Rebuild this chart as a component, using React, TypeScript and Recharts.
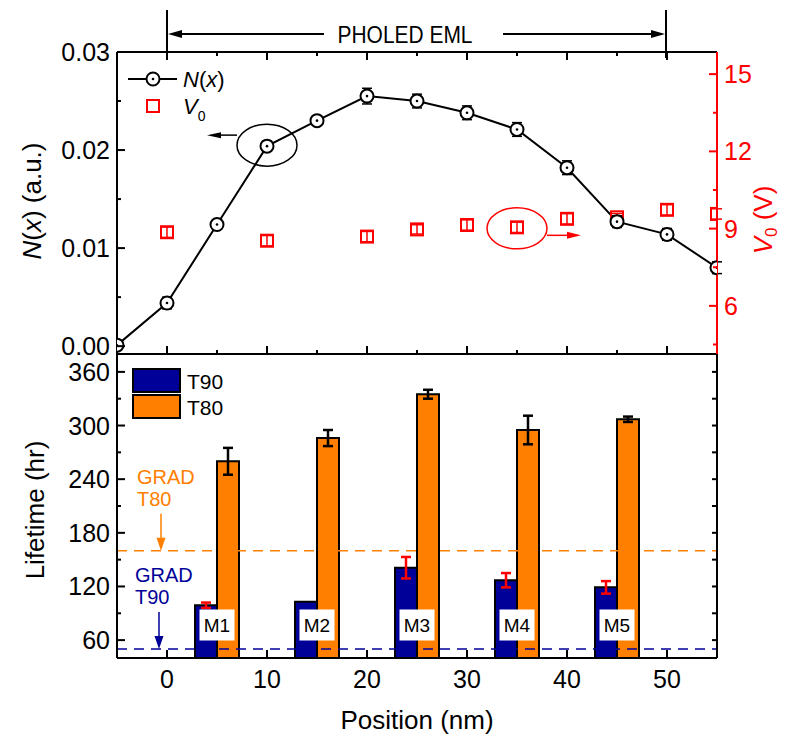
import React from "react";
import {
  ComposedChart,
  Line,
  Scatter,
  Bar,
  XAxis,
  YAxis,
  ErrorBar,
  ReferenceLine,
  ReferenceDot,
  LabelList,
} from "recharts";

// top panel: emission profile N(x) and driving voltage V0
const positions = [-5, 0, 5, 10, 15, 20, 25, 30, 35, 40, 45, 50, 55];
const nValues = [0.0001, 0.0044, 0.0124, 0.0204, 0.023, 0.0255, 0.025, 0.0238, 0.0221, 0.0182, 0.0127, 0.0114, 0.008];
const nErrors = [0, 0.0006, 0, 0.0005, 0, 0.0008, 0.0007, 0.0007, 0.0007, 0.0007, 0.0006, 0.0006, 0.0006];

const v0Positions = [0, 10, 20, 25, 30, 35, 40, 45, 50, 55];
const v0Values = [8.86, 8.53, 8.69, 8.97, 9.14, 9.05, 9.38, 9.44, 9.73, 9.57];
const v0Errors = [0.2, 0.2, 0.2, 0.18, 0.2, 0.2, 0.2, 0.15, 0.2, 0.2];

// bottom panel: lifetimes of the delta-doped devices
const devices = ["M1", "M2", "M3", "M4", "M5"];
const devicePositions = [5, 15, 25, 35, 45];
const t90 = [99, 103, 141, 127, 119];
const t90Err = [3, 0, 12, 8, 7];
const t80 = [260, 286, 335, 295, 307];
const t80Err = [15, 9, 5, 16, 3];
const gradT80 = 160;
const gradT90 = 50;

// tick values
const positionTicks = [0, 5, 10, 15, 20, 25, 30, 35, 40, 45, 50];
const lifetimePosTicks = [0, 10, 20, 30, 40, 50];
const nTicks = [0, 0.005, 0.01, 0.015, 0.02, 0.025, 0.03];
const v0Ticks = [4.5, 6, 7.5, 9, 10.5, 12, 13.5, 15];
const lifetimeTicks = [60, 90, 120, 150, 180, 210, 240, 270, 300, 330, 360];

const RED = "#ff0000";
const NAVY = "#000099";
const ORANGE = "#ff8000";
const FONT = "'Liberation Sans', Arial, sans-serif";

// ticks point inward, so draw line + label ourselves
function axisTick(
  side: "left" | "right" | "top" | "bottom",
  step: number,
  color: string,
  label?: (v: number) => string,
  majorLen = 8,
  minorLen = 4
) {
  return (p: any) => {
    const { x, y, payload } = p;
    const v = payload.value as number;
    const r = v / step;
    const major = Math.abs(r - Math.round(r)) < 1e-6;
    const len = major ? majorLen : minorLen;
    let x2 = x, y2 = y, tx = x, ty = y;
    let anchor: "start" | "middle" | "end" = "middle";
    if (side === "left") { x2 = x + len; tx = x - 7; anchor = "end"; }
    if (side === "right") { x2 = x - len; tx = x + 7; anchor = "start"; }
    if (side === "bottom") { y2 = y - len; ty = y + 21; }
    if (side === "top") { y2 = y + len; }
    return (
      <g>
        <line x1={x} y1={y} x2={x2} y2={y2} stroke={color} strokeWidth={2} />
        {major && label ? (
          <text x={tx} y={ty} textAnchor={anchor} dominantBaseline="central" fill={color} fontSize={25} fontFamily={FONT}>
            {label(v)}
          </text>
        ) : null}
      </g>
    );
  };
}

const renderCircle = (p: any) => (
  <g key={`c-${p.index}`}>
    <circle cx={p.cx} cy={p.cy} r={6.5} fill="#fff" stroke="#000" strokeWidth={2} />
    <circle cx={p.cx} cy={p.cy} r={1.3} fill="#000" />
  </g>
);

const renderSquare = (p: any) => (
  <rect x={p.cx - 6} y={p.cy - 6} width={12} height={12} fill="none" stroke={RED} strokeWidth={2} />
);

const leftCallout = (p: any) => {
  const { cx, cy } = p;
  return (
    <g>
      <ellipse cx={cx} cy={cy - 1} rx={30} ry={21} fill="none" stroke="#000" strokeWidth={1.5} />
      <line x1={cx - 30} y1={cy - 11} x2={cx - 50} y2={cy - 11} stroke="#000" strokeWidth={1.5} />
      <polygon points={`${cx - 60},${cy - 11} ${cx - 46},${cy - 14} ${cx - 46},${cy - 8}`} fill="#000" />
    </g>
  );
};

const rightCallout = (p: any) => {
  const { cx, cy } = p;
  return (
    <g>
      <ellipse cx={cx} cy={cy + 1} rx={30} ry={20.5} fill="none" stroke={RED} strokeWidth={1.5} />
      <line x1={cx + 30} y1={cy + 8} x2={cx + 52} y2={cy + 8} stroke={RED} strokeWidth={1.5} />
      <polygon points={`${cx + 64},${cy + 8} ${cx + 50},${cy + 4.5} ${cx + 50},${cy + 11.5}`} fill={RED} />
    </g>
  );
};

const gradMarker = (name: string, color: string) => (p: any) => {
  const { cx, cy } = p;
  return (
    <g fontFamily={FONT}>
      <text x={cx - 24} y={cy - 74} dominantBaseline="central" fill={color} fontSize={20}>GRAD</text>
      <text x={cx - 24} y={cy - 52} dominantBaseline="central" fill={color} fontSize={20}>{name}</text>
      <line x1={cx} y1={cy - 37} x2={cx} y2={cy - 10} stroke={color} strokeWidth={1.5} />
      <polygon points={`${cx},${cy} ${cx - 4.5},${cy - 13} ${cx + 4.5},${cy - 13}`} fill={color} />
    </g>
  );
};

const deviceLabel = (p: any) => {
  const { x, y, width, height, value } = p;
  const cx = x + width;
  const cy = y + height - 33;
  return (
    <g>
      <rect x={cx - 17.5} y={cy - 15.5} width={35} height={31} fill="#fff" />
      <text x={cx} y={cy} textAnchor="middle" dominantBaseline="central" fontSize={19} fontFamily={FONT} fill="#000">
        {value}
      </text>
    </g>
  );
};

export default function App() {
  const nData = positions.map((x, i) => ({ x, n: nValues[i], err: nErrors[i] }));
  const vData = v0Positions.map((x, i) => ({ x, v: v0Values[i], err: v0Errors[i] }));
  const barData = devicePositions.map((x, i) => ({
    x,
    name: devices[i],
    t90: t90[i],
    t90Err: t90Err[i],
    t80: t80[i],
    t80Err: t80Err[i],
  }));

  return (
    <div style={{ position: "absolute", left: 0, top: 0, width: 793, height: 741, background: "#fff", fontFamily: FONT }}>
      {/* top panel */}
      <div style={{ position: "absolute", left: 0, top: 0 }}>
        <ComposedChart width={793} height={360} margin={{ top: 51, right: 75, bottom: 5, left: 116 }}>
          <XAxis
            xAxisId="b"
            dataKey="x"
            type="number"
            domain={[-5, 55]}
            allowDataOverflow
            ticks={positionTicks}
            interval={0}
            height={1}
            tickSize={0}
            tickMargin={0}
            tickLine={false}
            axisLine={{ stroke: "#000", strokeWidth: 2 }}
            tick={axisTick("bottom", 10, "#000")}
          />
          <XAxis
            xAxisId="t"
            orientation="top"
            dataKey="x"
            type="number"
            domain={[-5, 55]}
            allowDataOverflow
            ticks={positionTicks}
            interval={0}
            height={1}
            tickSize={0}
            tickMargin={0}
            tickLine={false}
            axisLine={{ stroke: "#000", strokeWidth: 2 }}
            tick={axisTick("top", 10, "#000")}
          />
          <YAxis
            yAxisId="l"
            type="number"
            domain={[-0.0008, 0.03]}
            allowDataOverflow
            ticks={nTicks}
            interval={0}
            width={1}
            tickSize={0}
            tickMargin={0}
            tickLine={false}
            axisLine={{ stroke: "#000", strokeWidth: 2 }}
            tick={axisTick("left", 0.01, "#000", (v) => v.toFixed(2))}
          />
          <YAxis
            yAxisId="r"
            orientation="right"
            type="number"
            domain={[4.13, 15.86]}
            allowDataOverflow
            ticks={v0Ticks}
            interval={0}
            width={1}
            tickSize={0}
            tickMargin={0}
            tickLine={false}
            axisLine={{ stroke: RED, strokeWidth: 2 }}
            tick={axisTick("right", 3, RED, (v) => String(v))}
          />
          <Scatter
            data={vData}
            xAxisId="b"
            yAxisId="r"
            dataKey="v"
            shape={renderSquare}
            isAnimationActive={false}
          >
            <ErrorBar dataKey="err" direction="y" width={5} stroke={RED} strokeWidth={1.5} />
          </Scatter>
          <Line
            data={nData}
            xAxisId="b"
            yAxisId="l"
            dataKey="n"
            stroke="#000"
            strokeWidth={2}
            dot={renderCircle}
            activeDot={false}
            isAnimationActive={false}
          >
            <ErrorBar dataKey="err" direction="y" width={5} stroke="#000" strokeWidth={1.5} />
          </Line>
          <ReferenceDot xAxisId="b" yAxisId="l" x={positions[3]} y={nValues[3]} shape={leftCallout} />
          <ReferenceDot xAxisId="b" yAxisId="r" x={v0Positions[5]} y={v0Values[5]} shape={rightCallout} />
        </ComposedChart>
      </div>

      {/* bottom panel */}
      <div style={{ position: "absolute", left: 0, top: 350 }}>
        <ComposedChart
          width={793}
          height={391}
          data={barData}
          barGap={0}
          margin={{ top: 4, right: 75, bottom: 82, left: 116 }}
        >
          <XAxis
            dataKey="x"
            type="number"
            domain={[-5, 55]}
            allowDataOverflow
            ticks={lifetimePosTicks}
            interval={0}
            height={1}
            tickSize={0}
            tickMargin={0}
            tickLine={false}
            axisLine={{ stroke: "#000", strokeWidth: 2 }}
            tick={axisTick("bottom", 10, "#000", (v) => String(v))}
          />
          <YAxis
            yAxisId="l"
            type="number"
            domain={[40, 380]}
            allowDataOverflow
            ticks={lifetimeTicks}
            interval={0}
            width={1}
            tickSize={0}
            tickMargin={0}
            tickLine={false}
            axisLine={{ stroke: "#000", strokeWidth: 2 }}
            tick={axisTick("left", 60, "#000", (v) => String(v))}
          />
          <YAxis
            yAxisId="r"
            orientation="right"
            type="number"
            domain={[40, 380]}
            allowDataOverflow
            ticks={lifetimeTicks}
            interval={0}
            width={1}
            tickSize={0}
            tickMargin={0}
            tickLine={false}
            axisLine={{ stroke: "#000", strokeWidth: 2 }}
            tick={axisTick("right", 30, "#000", undefined, 5, 5)}
          />
          <ReferenceLine yAxisId="l" y={gradT80} stroke={ORANGE} strokeWidth={1.5} strokeDasharray="10 7" />
          <ReferenceLine yAxisId="l" y={gradT90} stroke={NAVY} strokeWidth={1.5} strokeDasharray="10 7" />
          <Bar yAxisId="l" dataKey="t90" barSize={22} fill={NAVY} stroke="#000" strokeWidth={2} isAnimationActive={false}>
            <ErrorBar dataKey="t90Err" direction="y" width={5} stroke={RED} strokeWidth={2.5} />
            <LabelList dataKey="name" content={deviceLabel} />
          </Bar>
          <Bar yAxisId="l" dataKey="t80" barSize={22} fill={ORANGE} stroke="#000" strokeWidth={2} isAnimationActive={false}>
            <ErrorBar dataKey="t80Err" direction="y" width={5} stroke="#000" strokeWidth={2.5} />
          </Bar>
          <ReferenceDot yAxisId="l" x={-0.6} y={gradT80} shape={gradMarker("T80", ORANGE)} />
          <ReferenceDot yAxisId="l" x={-0.8} y={gradT90} shape={gradMarker("T90", NAVY)} />
        </ComposedChart>
      </div>

      {/* legends, titles and the EML bracket */}
      <svg width={793} height={741} style={{ position: "absolute", left: 0, top: 0, pointerEvents: "none" }} fontFamily={FONT}>
        <line x1={167} y1={10} x2={167} y2={58} stroke="#000" strokeWidth={2} />
        <line x1={666} y1={10} x2={666} y2={58} stroke="#000" strokeWidth={2} />
        <line x1={178} y1={34} x2={324} y2={34} stroke="#000" strokeWidth={2} />
        <polygon points="168,34 182,30 182,38" fill="#000" />
        <line x1={503} y1={34} x2={655} y2={34} stroke="#000" strokeWidth={2} />
        <polygon points="665,34 651,30 651,38" fill="#000" />
        <text x={405} y={34} textAnchor="middle" dominantBaseline="central" fontSize={24} textLength={135} lengthAdjust="spacingAndGlyphs">
          PHOLED EML
        </text>

        <line x1={128} y1={79} x2={177} y2={79} stroke="#000" strokeWidth={2} />
        <circle cx={153} cy={79} r={6.5} fill="#fff" stroke="#000" strokeWidth={2} />
        <circle cx={153} cy={79} r={1.3} fill="#000" />
        <text x={183} y={79} dominantBaseline="central" fontSize={22}>
          <tspan fontStyle="italic">N</tspan>(<tspan fontStyle="italic">x</tspan>)
        </text>
        <rect x={147} y={100} width={12} height={12} fill="none" stroke={RED} strokeWidth={2} />
        <text x={183} y={106} dominantBaseline="central" fontSize={22}>
          <tspan fontStyle="italic">V</tspan>
          <tspan fontSize={14} dy={10}>0</tspan>
        </text>

        <rect x={133} y={369} width={47} height={23} fill={NAVY} stroke="#000" strokeWidth={2} />
        <rect x={133} y={395} width={47} height={23} fill={ORANGE} stroke="#000" strokeWidth={2} />
        <text x={187} y={381} dominantBaseline="central" fontSize={21}>T90</text>
        <text x={187} y={407} dominantBaseline="central" fontSize={21}>T80</text>

        <text transform="translate(32,201) rotate(-90)" textAnchor="middle" dominantBaseline="central" fontSize={26}>
          <tspan fontStyle="italic">N</tspan>(<tspan fontStyle="italic">x</tspan>) (a.u.)
        </text>
        <text transform="translate(763,220) rotate(-90)" textAnchor="middle" dominantBaseline="central" fontSize={26} fill={RED}>
          <tspan fontStyle="italic">V</tspan>
          <tspan fontSize={17} dy={8}>0</tspan>
          <tspan dy={-8}> (V)</tspan>
        </text>
        <text transform="translate(35,510) rotate(-90)" textAnchor="middle" dominantBaseline="central" fontSize={26}>
          Lifetime (hr)
        </text>
        <text x={417} y={720} textAnchor="middle" dominantBaseline="central" fontSize={26}>
          Position (nm)
        </text>
      </svg>
    </div>
  );
}
